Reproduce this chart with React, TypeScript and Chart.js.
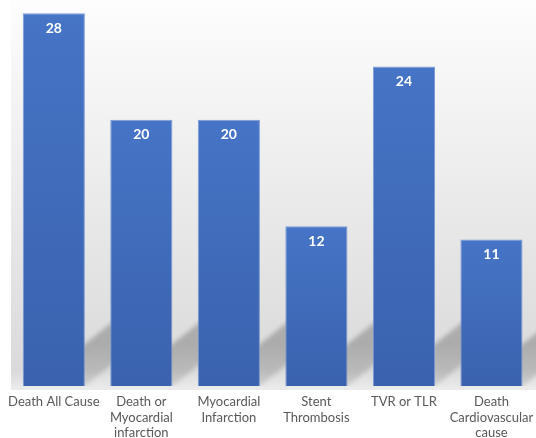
import React, { useEffect, useRef } from "react";
import { Chart, registerables } from "chart.js";

Chart.register(...registerables);

const categories: (string | string[])[] = [
  "Death All Cause",
  ["Death or", "Myocardial", "infarction"],
  ["Myocardial", "Infarction"],
  ["Stent", "Thrombosis"],
  "TVR or TLR",
  ["Death", "Cardiovascular", "cause"],
];
const values: number[] = [28, 20, 20, 12, 24, 11];
const yMax = 29;

const FONT = "Lato, 'Liberation Sans', sans-serif";

const backgroundPlugin = {
  id: "bgPlugin",
  beforeDraw(chart: any) {
    const { ctx, chartArea, width } = chart;
    if (!chartArea) return;
    ctx.save();
    const left = chartArea.left + 1;
    const bottom = chartArea.bottom + 4;
    const g = ctx.createLinearGradient(0, 0, 0, bottom);
    g.addColorStop(0, "#fdfdfd");
    g.addColorStop(0.95, "#dadada");
    g.addColorStop(1, "#ececec");
    ctx.fillStyle = g;
    ctx.fillRect(left, 0, width - left, bottom);
    ctx.restore();
  },
  beforeDatasetsDraw(chart: any) {
    const { ctx, chartArea } = chart;
    const meta = chart.getDatasetMeta(0);
    ctx.save();
    ctx.beginPath();
    ctx.rect(chartArea.left + 1, chartArea.top, chartArea.right - chartArea.left, chartArea.bottom - chartArea.top);
    ctx.clip();
    ctx.filter = "blur(2px)";
    meta.data.forEach((bar: any, i: number) => {
      const x0 = bar.x - bar.width / 2;
      const x1 = bar.x + bar.width / 2;
      const next = meta.data[i + 1];
      const xEnd = next ? next.x - next.width / 2 + 4 : chartArea.right + 10;
      const yb = bar.base;
      const h = 42;
      const k = 0.8;
      const w = xEnd - x0;
      const g = ctx.createLinearGradient(0, yb - h, 0, yb);
      g.addColorStop(0, "rgba(0,0,0,0.22)");
      g.addColorStop(1, "rgba(0,0,0,0.10)");
      ctx.fillStyle = g;
      ctx.beginPath();
      ctx.moveTo(x0, yb + (x1 - x0) * k);
      ctx.lineTo(x0, yb - h + (x1 - x0) * k);
      ctx.lineTo(x0 + w, yb - h - (xEnd - x1) * k);
      ctx.lineTo(x0 + w, yb - (xEnd - x1) * k);
      ctx.closePath();
      ctx.fill();
    });
    ctx.restore();
  },
  afterDatasetsDraw(chart: any) {
    const { ctx } = chart;
    const meta = chart.getDatasetMeta(0);
    ctx.save();
    ctx.fillStyle = "#ffffff";
    ctx.font = `bold 14px ${FONT}`;
    ctx.textAlign = "center";
    ctx.textBaseline = "middle";
    meta.data.forEach((bar: any, i: number) => {
      ctx.fillText(String(values[i]), bar.x, bar.y + 15);
    });
    ctx.restore();
  },
};

export default function App() {
  const ref = useRef<HTMLCanvasElement | null>(null);
  useEffect(() => {
    if (!ref.current) return;
    const chart = new Chart(ref.current, {
      type: "bar",
      data: {
        labels: categories,
        datasets: [
          {
            data: values,
            backgroundColor: (c: any) => {
              const chart = c.chart;
              if (!chart.chartArea || !chart.scales.y) return "#4170c0";
              const v = values[c.dataIndex];
              const top = chart.scales.y.getPixelForValue(v);
              const bottom = chart.scales.y.getPixelForValue(0);
              const g = chart.ctx.createLinearGradient(0, top, 0, bottom);
              g.addColorStop(0, "#4674c6");
              g.addColorStop(1, "#3a62ae");
              return g;
            },
            borderColor: "rgba(110,145,210,0.9)",
            borderWidth: 1,
            barPercentage: 0.71,
            categoryPercentage: 1,
          },
        ],
      },
      options: {
        responsive: false,
        animation: false,
        layout: { padding: { left: 7, right: 0, top: 0, bottom: 0 } },
        plugins: { legend: { display: false }, tooltip: { enabled: false } },
        scales: {
          y: { display: false, min: 0, max: yMax },
          x: {
            grid: { display: false, drawTicks: false },
            border: { display: false },
            ticks: {
              color: "#595959",
              font: { family: FONT, size: 13, lineHeight: 1.2 },
              padding: 8,
              maxRotation: 0,
              autoSkip: false,
            },
            afterFit: (scale: any) => {
              scale.height = 52;
            },
          },
        },
      },
      plugins: [backgroundPlugin],
    });
    return () => chart.destroy();
  }, []);
  return (
    <div
      style={{
        position: "fixed",
        left: 0,
        top: 0,
        width: 536,
        height: 438,
        overflow: "hidden",
        background: "#ffffff",
      }}
    >
      <canvas ref={ref} width={541} height={438} style={{ display: "block" }} />
    </div>
  );
}
